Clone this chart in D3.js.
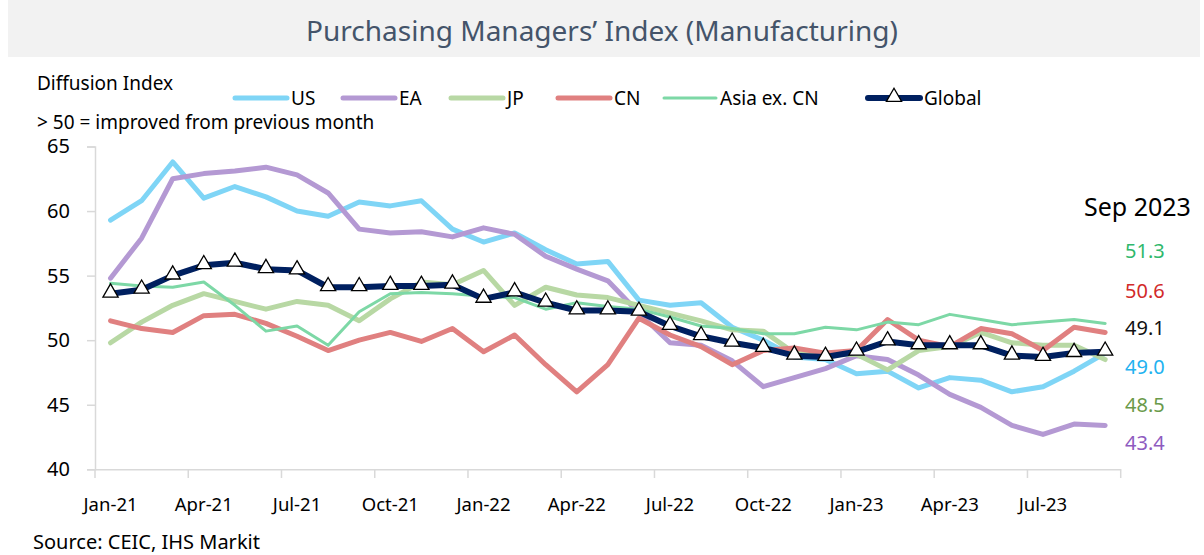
<!DOCTYPE html>
<html>
<head>
<meta charset="utf-8">
<script src="https://cdn.jsdelivr.net/npm/d3@7"></script>
<style>
  html, body { margin: 0; padding: 0; background: #ffffff; }
  svg { display: block; font-family: "Noto Sans", "Open Sans", sans-serif; }
</style>
</head>
<body>
<svg id="chart" width="1204" height="555"></svg>
<script>
// ---------------- DATA ----------------
const months = ["Jan-21","Feb-21","Mar-21","Apr-21","May-21","Jun-21","Jul-21","Aug-21","Sep-21","Oct-21","Nov-21","Dec-21",
                "Jan-22","Feb-22","Mar-22","Apr-22","May-22","Jun-22","Jul-22","Aug-22","Sep-22","Oct-22","Nov-22","Dec-22",
                "Jan-23","Feb-23","Mar-23","Apr-23","May-23","Jun-23","Jul-23","Aug-23","Sep-23"];
const tickLabels = ["Jan-21","Apr-21","Jul-21","Oct-21","Jan-22","Apr-22","Jul-22","Oct-22","Jan-23","Apr-23","Jul-23"];
const yTicks = [40, 45, 50, 55, 60, 65];

const usValues     = [59.3,60.8,63.8,61.0,61.9,61.1,60.0,59.6,60.7,60.4,60.8,58.6,57.6,58.3,57.0,55.9,56.1,53.1,52.7,52.9,51.0,50.0,48.7,48.5,47.4,47.6,46.3,47.1,46.9,46.0,46.4,47.6,49.0];
const eaValues     = [54.8,57.9,62.5,62.9,63.1,63.4,62.8,61.4,58.6,58.3,58.4,58.0,58.7,58.2,56.5,55.5,54.6,52.1,49.8,49.6,48.4,46.4,47.1,47.8,48.8,48.5,47.3,45.8,44.8,43.4,42.7,43.5,43.4];
const jpValues     = [49.8,51.4,52.7,53.6,53.0,52.4,53.0,52.7,51.5,53.2,54.5,54.3,55.4,52.7,54.1,53.5,53.3,52.7,52.1,51.5,50.8,50.7,49.0,48.9,48.9,47.7,49.2,49.5,50.6,49.8,49.6,49.6,48.5];
const cnValues     = [51.5,50.9,50.6,51.9,52.0,51.3,50.3,49.2,50.0,50.6,49.9,50.9,49.1,50.4,48.1,46.0,48.1,51.7,50.4,49.5,48.1,49.2,49.4,49.0,49.2,51.6,50.0,49.5,50.9,50.5,49.2,51.0,50.6];
const asiaValues   = [54.4,54.2,54.1,54.5,52.7,50.7,51.1,49.6,52.2,53.6,53.7,53.6,53.4,53.3,52.4,52.9,52.6,52.4,51.8,51.1,50.9,50.5,50.5,51.0,50.8,51.4,51.2,52.0,51.6,51.2,51.4,51.6,51.3];
const globalValues = [53.6,53.9,55.0,55.8,56.0,55.5,55.4,54.1,54.1,54.2,54.2,54.3,53.2,53.7,52.9,52.3,52.3,52.2,51.1,50.3,49.8,49.4,48.8,48.7,49.1,49.9,49.6,49.6,49.6,48.8,48.7,49.0,49.1];

const seriesNames = ["US","EA","JP","CN","Asia ex. CN","Global"];
const endLabels = ["51.3","50.6","49.1","49.0","48.5","43.4"];

// ---------------- STYLE ----------------
const series = [
  {name: "US",          values: usValues,     color: "#7fd5f6", width: 5},
  {name: "EA",          values: eaValues,     color: "#b499d3", width: 5},
  {name: "JP",          values: jpValues,     color: "#b8d8a4", width: 5},
  {name: "CN",          values: cnValues,     color: "#e08080", width: 5},
  {name: "Asia ex. CN", values: asiaValues,   color: "#7dd8a6", width: 3},
  {name: "Global",      values: globalValues, color: "#002060", width: 6, marker: true}
];
const endLabelColors = ["#2fb86c","#d22a2a","#111111","#22b2f0","#6a9a4a","#8e5bbf"];
const endLabelY = [250, 290, 327, 366, 404, 442];

const svg = d3.select("#chart");
const axisColor = "#d9d9d9";

// Title band
svg.append("rect").attr("x", 8).attr("y", 0).attr("width", 1192).attr("height", 57).attr("fill", "#f2f2f2");
svg.append("text").attr("x", 602).attr("y", 30).attr("text-anchor", "middle").attr("dominant-baseline", "central")
  .attr("font-size", 28).attr("fill", "#44546a").text("Purchasing Managers\u2019 Index (Manufacturing)");

// Scales
const x = d3.scaleBand().domain(months).range([95, 1120.7]).paddingInner(0).paddingOuter(0);
const xc = m => x(m) + x.bandwidth() / 2;
const y = d3.scaleLinear().domain([40, 65]).range([469.3, 146.5]);

// Y axis
const yAxis = svg.append("g").attr("transform", "translate(95,0)")
  .call(d3.axisLeft(y).tickValues(yTicks).tickSize(8).tickPadding(17).tickFormat(d3.format("d")));
yAxis.select(".domain").attr("stroke", axisColor).attr("stroke-width", 1.5);
yAxis.selectAll(".tick line").attr("stroke", axisColor).attr("stroke-width", 1.5);
yAxis.selectAll(".tick text").attr("font-size", 20).attr("fill", "#000").attr("font-family", "Noto Sans, sans-serif");

// X axis (labels at category centres, tick marks between categories every 3 months)
const xAxis = svg.append("g").attr("transform", "translate(0,469.3)")
  .call(d3.axisBottom(x).tickValues(tickLabels).tickSize(0).tickPadding(29));
xAxis.select(".domain").attr("stroke", axisColor).attr("stroke-width", 1.5);
xAxis.selectAll(".tick text").attr("font-size", 18.5).attr("fill", "#000").attr("font-family", "Noto Sans, sans-serif");
const boundaryTicks = months.filter((m, i) => i % 3 === 0).map(m => x(m)).concat([x.range()[1]]);
svg.append("g").selectAll("line").data(boundaryTicks).join("line")
  .attr("x1", d => d).attr("x2", d => d).attr("y1", 469.3).attr("y2", 478)
  .attr("stroke", axisColor).attr("stroke-width", 1.5);

// Lines
const line = d3.line().x((d, i) => xc(months[i])).y(d => y(d));
series.forEach(s => {
  svg.append("path").datum(s.values).attr("d", line)
    .attr("fill", "none").attr("stroke", s.color).attr("stroke-width", s.width)
    .attr("stroke-linejoin", "round").attr("stroke-linecap", "round");
});
const tri = d3.symbol().type(d3.symbolTriangle).size(100);
const g = series[5];
svg.append("g").selectAll("path").data(g.values).join("path")
  .attr("d", tri).attr("transform", (d, i) => `translate(${xc(months[i])},${y(d) - 1})`)
  .attr("fill", "#ffffff").attr("stroke", "#000").attr("stroke-width", 1.3);

// Header texts
svg.append("text").attr("x", 37).attr("y", 90).attr("font-size", 19).attr("fill", "#000").text("Diffusion Index");
svg.append("text").attr("x", 37).attr("y", 129).attr("font-size", 19).attr("fill", "#000").text("> 50 = improved from previous month");

// Legend
const legendX = [235, 343, 451, 558, 664, 868];
const legendY = 98;
series.forEach((s, i) => {
  const lg = svg.append("g").attr("transform", `translate(${legendX[i]},${legendY})`);
  lg.append("line").attr("x1", 0).attr("x2", 52).attr("y1", 0).attr("y2", 0)
    .attr("stroke", s.color).attr("stroke-width", s.width).attr("stroke-linecap", "round");
  if (s.marker) {
    lg.append("path").attr("d", tri).attr("transform", "translate(26,-1)")
      .attr("fill", "#fff").attr("stroke", "#000").attr("stroke-width", 1.3);
  }
  lg.append("text").attr("x", 56).attr("y", 0).attr("dominant-baseline", "central")
    .attr("font-size", 19).attr("fill", "#000").text(seriesNames[i]);
});

// End labels
svg.append("text").attr("x", 1084).attr("y", 206).attr("dominant-baseline", "central")
  .attr("font-size", 25).attr("fill", "#000").text("Sep 2023");
svg.append("g").selectAll("text").data(endLabels).join("text")
  .attr("x", 1125).attr("y", (d, i) => endLabelY[i]).attr("dominant-baseline", "central")
  .attr("font-size", 20).attr("fill", (d, i) => endLabelColors[i]).text(d => d);

// Source
svg.append("text").attr("x", 33).attr("y", 549).attr("font-size", 20).attr("fill", "#000").text("Source: CEIC, IHS Markit");
</script>
</body>
</html>
